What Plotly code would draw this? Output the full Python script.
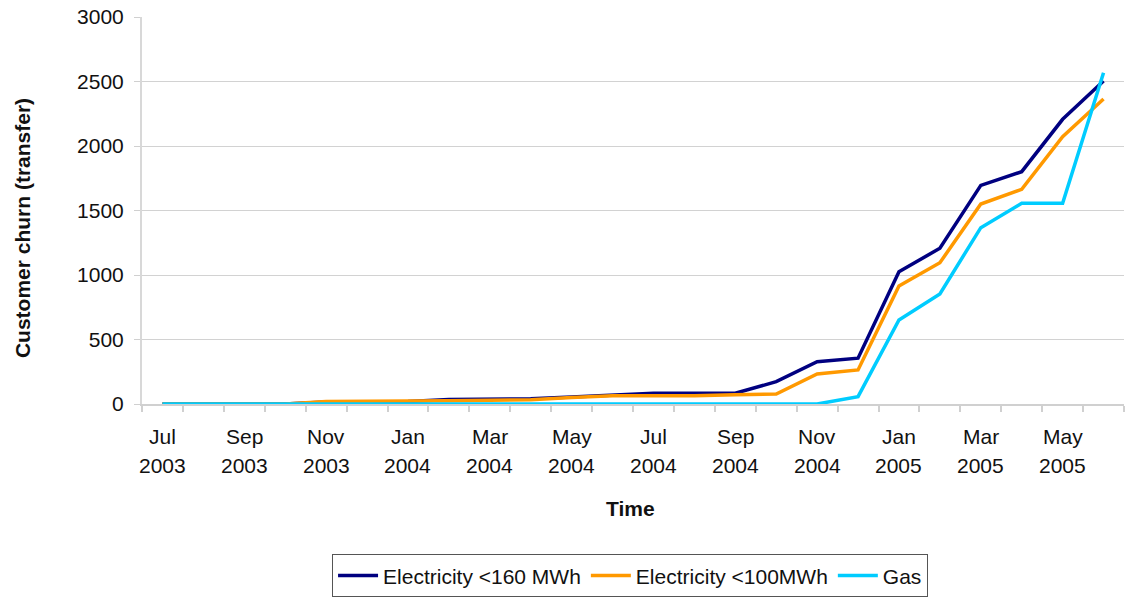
import plotly.graph_objects as go

# Monthly customer churn (number of transfers), Jul 2003 - Jun 2005
months = ["Jul", "Aug", "Sep", "Oct", "Nov", "Dec",
          "Jan", "Feb", "Mar", "Apr", "May", "Jun",
          "Jul", "Aug", "Sep", "Oct", "Nov", "Dec",
          "Jan", "Feb", "Mar", "Apr", "May", "Jun"]
years = ["2003"] * 6 + ["2004"] * 12 + ["2005"] * 6

elec_160 = [0, 0, 0, 0, 15, 15, 20, 35, 35, 40, 55, 72,
            83, 83, 83, 173, 328, 355, 1026, 1207, 1695, 1801, 2207, 2504]
elec_100 = [0, 0, 0, 0, 20, 20, 20, 25, 30, 33, 50, 64,
            64, 64, 72, 77, 233, 264, 915, 1095, 1550, 1664, 2072, 2364]
gas = [0, 0, 0, 0, 0, 0, 0, 0, 0, 0, 0, 0,
       0, 0, 0, 0, 0, 57, 651, 853, 1367, 1556, 1556, 2568]

series = [
    ("Electricity <160 MWh", elec_160, "#000080"),
    ("Electricity <100MWh", elec_100, "#FF9900"),
    ("Gas", gas, "#00CCFF"),
]

FONT = "Liberation Sans, Arial, sans-serif"
TXT = "#111"
FS = 21
pos = list(range(len(months)))

fig = go.Figure()
for name, vals, color in series:
    fig.add_trace(go.Scatter(
        x=pos, y=vals, name=name, mode="lines",
        line=dict(color=color, width=3.5),
    ))

# labels every second month, drawn as two lines (month / year)
label_pos = pos[::2]
annotations = []
for p in label_pos:
    annotations.append(dict(x=p, y=-0.083, xref="x", yref="paper",
                            text=months[p], showarrow=False,
                            font=dict(family=FONT, size=FS, color=TXT),
                            xanchor="center", yanchor="middle"))
    annotations.append(dict(x=p, y=-0.160, xref="x", yref="paper",
                            text=years[p], showarrow=False,
                            font=dict(family=FONT, size=FS, color=TXT),
                            xanchor="center", yanchor="middle"))

annotations.append(dict(x=0.497, y=-0.269, xref="paper", yref="paper",
                        text="<b>Time</b>", showarrow=False,
                        font=dict(family=FONT, size=FS, color=TXT),
                        xanchor="center", yanchor="middle"))
annotations.append(dict(x=-0.121, y=0.455, xref="paper", yref="paper",
                        text="<b>Customer churn (transfer)</b>", showarrow=False,
                        textangle=-90,
                        font=dict(family=FONT, size=FS, color=TXT),
                        xanchor="center", yanchor="middle"))

fig.update_layout(
    width=1130, height=600,
    margin=dict(l=142, r=6, t=17, b=196, autoexpand=False),
    paper_bgcolor="white", plot_bgcolor="white",
    font=dict(family=FONT, size=FS, color=TXT),
    showlegend=True,
    legend=dict(
        orientation="h", x=0.497, xanchor="center",
        yref="container", y=0.076, yanchor="top",
        bordercolor="#555", borderwidth=1,
        font=dict(family=FONT, size=FS, color=TXT),
        itemwidth=40, tracegroupgap=0,
    ),
    annotations=annotations,
)

fig.update_xaxes(
    range=[-0.5, len(months) - 0.5],
    tickvals=label_pos, showticklabels=False, ticks="",
    showgrid=False, zeroline=False,
    showline=True, linecolor="#d0d0d0", linewidth=2,
    minor=dict(tickvals=[p - 0.5 for p in pos] + [len(months) - 0.5],
               ticks="outside", ticklen=6, tickcolor="#d0d0d0", tickwidth=2,
               showgrid=False),
)

fig.update_yaxes(
    range=[0, 3000], dtick=500,
    showgrid=True, gridcolor="#d2d2d2", gridwidth=1,
    zeroline=False,
    showline=True, linecolor="#d8d8d8", linewidth=2,
    ticks="outside", ticklen=6, tickcolor="#d0d0d0", tickwidth=1,
    ticklabelstandoff=6,
    tickfont=dict(family=FONT, size=FS, color=TXT),
)

fig.write_html("out.html")
